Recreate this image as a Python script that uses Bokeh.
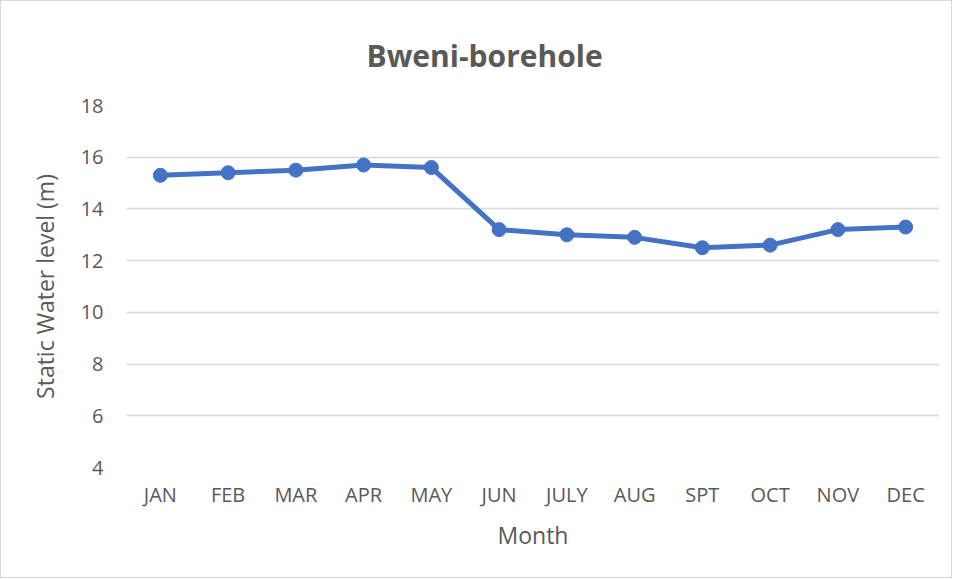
from bokeh.plotting import figure
from bokeh.models import FixedTicker
from bokeh.embed import file_html
from bokeh.resources import INLINE

months = ["JAN", "FEB", "MAR", "APR", "MAY", "JUN", "JULY", "AUG", "SPT", "OCT", "NOV", "DEC"]
level = [15.3, 15.4, 15.5, 15.7, 15.6, 13.2, 13.0, 12.9, 12.5, 12.6, 13.2, 13.3]
y_ticks = [4, 6, 8, 10, 12, 14, 16, 18]

FONT = "Open Sans"
GREY = "#595959"
BLUE = "#4472C4"

p = figure(x_range=months, y_range=(4, 18), width=952, height=578,
           output_backend="svg", toolbar_location=None,
           min_border_left=125, min_border_right=14, min_border_top=104, min_border_bottom=112)
p.styles = {"border": "1px solid #d9d9d9"}
p.outline_line_color = None
p.background_fill_color = "white"
p.border_fill_color = "white"

p.title.text = "Bweni-borehole"
p.title.align = "left"
p.title.offset = 240
p.title.standoff = 59
p.title.text_font = FONT
p.title.text_font_style = "bold"
p.title.text_font_size = "30px"
p.title.text_color = GREY

p.line(months, level, line_color=BLUE, line_width=5)
p.scatter(months, level, size=14, color=BLUE)

p.yaxis.ticker = FixedTicker(ticks=y_ticks)
for ax in (p.xaxis[0], p.yaxis[0]):
    ax.axis_line_color = None
    ax.major_tick_line_color = None
    ax.minor_tick_line_color = None
    ax.major_label_text_color = GREY
    ax.major_label_text_font = FONT
    ax.major_label_text_font_size = "20px"
    ax.axis_label_text_color = GREY
    ax.axis_label_text_font = FONT
    ax.axis_label_text_font_size = "23px"
    ax.axis_label_text_font_style = "normal"

p.xaxis.axis_label = "Month"
p.yaxis.axis_label = "Static Water level (m)"
p.xaxis.major_label_standoff = 7
p.yaxis.major_label_standoff = 17
p.xaxis.axis_label_standoff = 8
p.yaxis.axis_label_standoff = 17

p.xgrid.grid_line_color = None
p.ygrid.grid_line_color = "#d9d9d9"
p.ygrid.grid_line_width = 1.5

open("out.html", "w").write(file_html(p, INLINE))
